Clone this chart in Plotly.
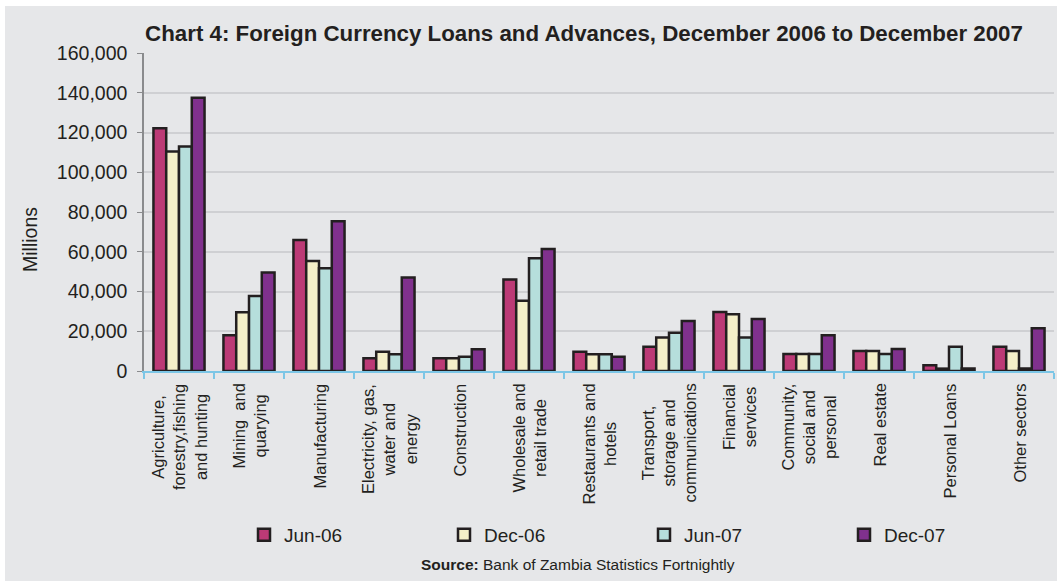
import plotly.graph_objects as go

categories = [
    "Agriculture,<br>forestry,fishing<br>and hunting",
    "Mining  and<br>quarying",
    "Manufacturing",
    "Electricity, gas,<br>water and<br>energy",
    "Construction",
    "Wholesale and<br>retail trade",
    "Restaurants and<br>hotels",
    "Transport,<br>storage and<br>communications",
    "Financial<br>services",
    "Community,<br>social and<br>personal",
    "Real estate",
    "Personal Loans",
    "Other sectors",
]
cat_ids = [f"c{i}" for i in range(len(categories))]

series_names = ["Jun-06", "Dec-06", "Jun-07", "Dec-07"]
jun06 = [122100, 18000, 65900, 6400, 6400, 46100, 9700, 12200, 29700, 8600, 10100, 2900, 12200]
dec06 = [110400, 29500, 55300, 9700, 6400, 35400, 8400, 16800, 28500, 8600, 10100, 1200, 10100]
jun07 = [112900, 37700, 51700, 8400, 7200, 56700, 8400, 19300, 16800, 8600, 8600, 12200, 1300]
dec07 = [137500, 49500, 75300, 47100, 10900, 61400, 7200, 25200, 26200, 18000, 11100, 1300, 21500]
series_values = [jun06, dec06, jun07, dec07]
colors = ["#bc3a76", "#f4efc8", "#b6dedc", "#80318d"]

y_ticks = [0, 20000, 40000, 60000, 80000, 100000, 120000, 140000, 160000]
y_ticklabels = ["0", "20,000", "40,000", "60,000", "80,000", "100,000", "120,000", "140,000", "160,000"]

W, H = 1057, 581
L, R, T, B = 144, 3, 53, 210
pw, ph = W - L - R, H - T - B

def px_x(px):
    return (px - L) / pw

def px_y(py):
    return (T + ph - py) / ph

SANS = "Liberation Sans, Arial, sans-serif"
INK = "#231f20"

fig = go.Figure()
for name, vals, col in zip(series_names, series_values, colors):
    fig.add_trace(go.Bar(
        x=cat_ids, y=vals, name=name,
        marker=dict(color=col, line=dict(color=INK, width=2.5)),
    ))

GRAY = "#e6e7e9"
fig.add_shape(type="rect", xref="paper", yref="paper",
              x0=px_x(5), x1=px_x(W + 5), y0=px_y(H + 5), y1=px_y(6),
              fillcolor=GRAY, line=dict(width=0), layer="below")

annotations = []
for cid, lab in zip(cat_ids, categories):
    annotations.append(dict(
        x=cid, xref="x", y=px_y(382), yref="paper",
        text=lab, textangle=-90, showarrow=False, align="center",
        xanchor="center", yanchor="top",
        font=dict(family=SANS, size=16.5, color=INK),
    ))
annotations.append(dict(
    x=px_x(30), xref="paper", y=px_y(240), yref="paper",
    text="Millions", textangle=-90, showarrow=False,
    xanchor="center", yanchor="middle",
    font=dict(family=SANS, size=19.5, color=INK),
))
annotations.append(dict(
    x=px_x(578), xref="paper", y=px_y(564), yref="paper",
    text="<b>Source:</b> Bank of Zambia Statistics Fortnightly", showarrow=False,
    xanchor="center", yanchor="middle",
    font=dict(family=SANS, size=15.5, color=INK),
))

fig.update_layout(
    width=W, height=H,
    margin=dict(l=L, r=R, t=T, b=B),
    paper_bgcolor="white",
    plot_bgcolor="rgba(0,0,0,0)",
    barmode="group", bargap=0.27, bargroupgap=0,
    title=dict(
        text="<b>Chart 4: Foreign Currency Loans and Advances, December 2006 to December 2007</b>",
        xref="paper", x=px_x(584), xanchor="center",
        yref="container", y=1 - 33 / H, yanchor="middle",
        font=dict(family=SANS, size=22.3, color=INK),
    ),
    font=dict(family=SANS, size=19, color=INK),
    showlegend=True,
    legend=dict(
        orientation="h", xref="container", yref="container",
        x=244 / W, y=1 - 535 / H, xanchor="left", yanchor="middle",
        entrywidth=155, entrywidthmode="pixels",
        font=dict(family=SANS, size=19, color=INK), bgcolor="rgba(0,0,0,0)",
        itemclick=False,
    ),
    annotations=annotations,
)
fig.update_xaxes(
    type="category", categoryorder="array", categoryarray=cat_ids,
    showticklabels=False, showgrid=False,
    showline=True, linecolor="#7cc6e6", linewidth=2,
    ticks="outside", ticklen=6, tickcolor="#7cc6e6", tickwidth=1.5,
    tickson="boundaries", zeroline=False,
)
fig.update_yaxes(
    range=[0, 160000], tickvals=y_ticks, ticktext=y_ticklabels,
    showgrid=True, gridcolor="#cfd0d3", gridwidth=1.5,
    showline=True, linecolor="#8a8b8d", linewidth=1.5,
    ticks="outside", ticklen=5, tickcolor="#8a8b8d",
    ticklabelstandoff=6,
    zeroline=False,
    tickfont=dict(family=SANS, size=19.5, color=INK),
)

fig.write_html("out.html")
